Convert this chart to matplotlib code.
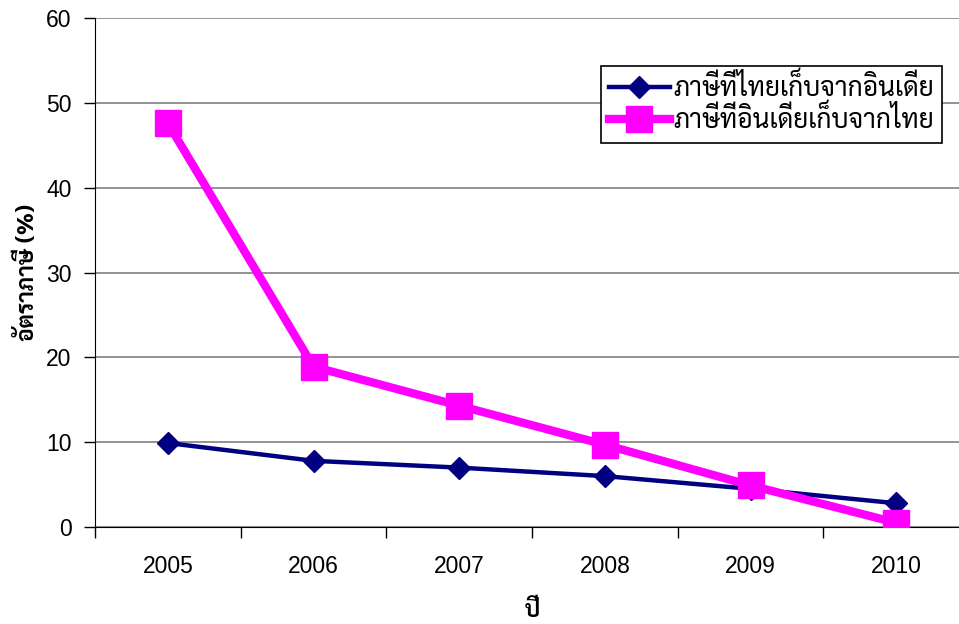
import os
import matplotlib
matplotlib.use('Agg')
import matplotlib.pyplot as plt
from matplotlib import font_manager
from matplotlib.ft2font import FT2Font

years = ['2005', '2006', '2007', '2008', '2009', '2010']
thai_tax_on_india = [9.9, 7.8, 7.0, 6.0, 4.5, 2.8]
india_tax_on_thai = [47.6, 18.9, 14.3, 9.7, 4.9, 0.5]
label_blue = 'ภาษีที่ไทยเก็บจากอินเดีย'
label_pink = 'ภาษีที่อินเดียเก็บจากไทย'
y_label = 'อัตราภาษี (%)'
x_label = 'ปี'

# pick a Thai font (looped style, like Tahoma)
paths = font_manager.findSystemFonts()
def find_font(names):
    for n in names:
        for p in paths:
            if os.path.basename(p) == n:
                return p
    for p in paths:
        try:
            if ord('ภ') in FT2Font(p).get_charmap() and 'unifont' not in p:
                return p
        except Exception:
            pass
    return None

reg = find_font(['Sarabun-Regular.ttf', 'Niramit-Regular.ttf'])
bold = find_font(['Sarabun-Bold.ttf', 'Sarabun-SemiBold.ttf', 'Niramit-Bold.ttf'])
thai_reg = font_manager.FontProperties(fname=reg, size=19)
thai_bold = font_manager.FontProperties(fname=bold, size=16.5)

plt.rcParams['font.family'] = ['Liberation Sans', 'DejaVu Sans']

fig = plt.figure(figsize=(9.59, 6.24), dpi=100)
ax = fig.add_axes([95 / 959, 1 - 527 / 624, (969 - 95) / 959, (527 - 18) / 624])

x = list(range(len(years)))
ax.plot(x, thai_tax_on_india, color='#000080', lw=3.2, marker='D', ms=11.7,
        label=label_blue, zorder=3)
ax.plot(x, india_tax_on_thai, color='#FF00FF', lw=6, marker='s', ms=19.4,
        label=label_pink, zorder=4)

ax.set_xlim(-0.5, 5.5)
ax.set_ylim(0, 60)
ax.set_yticks(range(0, 61, 10))
ax.set_xticks([i + 0.5 for i in range(-1, 6)])
ax.set_xticklabels([])
ax.set_xticks(x, minor=True)
ax.set_xticklabels(years, minor=True)
ax.tick_params(axis='x', which='major', length=8, direction='out', width=1)
ax.tick_params(axis='x', which='minor', length=0, labelsize=16.5, pad=20)
ax.tick_params(axis='y', length=8, direction='out', labelsize=16.5, width=1, pad=9)
ax.yaxis.grid(True, color='#808080', lw=1.2)
ax.set_axisbelow(True)
for s in ['top', 'right']:
    ax.spines[s].set_visible(False)
ax.spines['left'].set_color('black')
ax.spines['bottom'].set_color('black')

ax.set_ylabel(y_label, fontproperties=thai_bold, labelpad=5)
ax.set_xlabel(x_label, fontproperties=thai_bold, labelpad=16)

leg = ax.legend(loc='upper left', bbox_to_anchor=(0.579, 0.906), prop=thai_reg,
                frameon=True, fancybox=False, edgecolor='black', framealpha=1,
                handlelength=2.3, borderpad=0.3, labelspacing=0.15,
                handletextpad=0.15, borderaxespad=0)
leg.get_frame().set_linewidth(1.2)

fig.savefig('out.png', dpi=100)
